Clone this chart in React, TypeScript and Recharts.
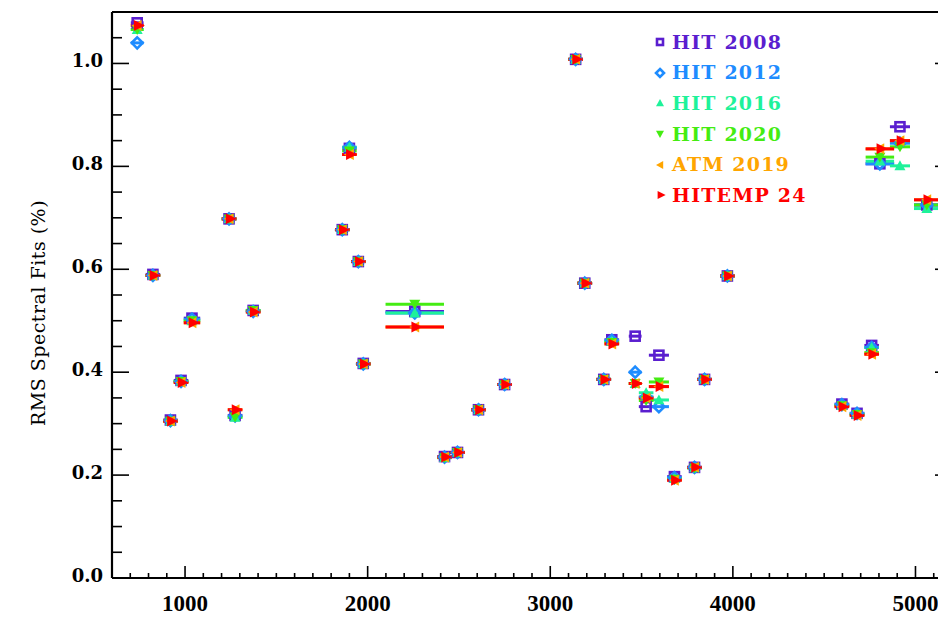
import { ErrorBar, Scatter, ScatterChart, XAxis, YAxis } from 'recharts'

// band centres (cm-1) and half widths used for the horizontal bars
const wavenumbers = [
  738, 824, 920, 978, 1038, 1241, 1274, 1373, 1861, 1900, 1949, 1976, 2258, 2421, 2492, 2607, 2750,
  3139, 3189, 3293, 3337, 3465, 3525, 3595, 3680, 3790, 3845, 3970, 4597, 4680, 4760, 4805, 4915, 5062,
]
const halfWidths = [
  35, 40, 40, 40, 45, 40, 40, 40, 40, 40, 40, 40, 160, 40, 40, 40, 40,
  40, 40, 40, 40, 35, 40, 55, 40, 40, 40, 40, 40, 40, 40, 78, 55, 70,
]

// RMS spectral fit residuals (%) per line list
const hit2008 = [
  1.079, 0.59, 0.307, 0.384, 0.505, 0.698, 0.316, 0.52, 0.677, 0.835, 0.615, 0.417, 0.518, 0.236, 0.244, 0.327, 0.376,
  1.008, 0.573, 0.386, 0.463, 0.47, 0.333, 0.433, 0.197, 0.215, 0.386, 0.587, 0.338, 0.32, 0.452, 0.805, 0.877, 0.725,
]
const hit2012 = [
  1.04, 0.588, 0.306, 0.382, 0.503, 0.698, 0.315, 0.518, 0.677, 0.837, 0.615, 0.416, 0.515, 0.235, 0.244, 0.327, 0.376,
  1.008, 0.573, 0.386, 0.462, 0.4, 0.352, 0.333, 0.195, 0.215, 0.386, 0.587, 0.337, 0.32, 0.448, 0.805, 0.845, 0.725,
]
const hit2016 = [
  1.066, 0.588, 0.305, 0.382, 0.5, 0.698, 0.312, 0.52, 0.677, 0.837, 0.615, 0.416, 0.515, 0.234, 0.244, 0.327, 0.376,
  1.008, 0.573, 0.386, 0.46, 0.378, 0.36, 0.346, 0.193, 0.214, 0.386, 0.587, 0.335, 0.318, 0.448, 0.81, 0.801, 0.718,
]
const hit2020 = [
  1.066, 0.588, 0.305, 0.382, 0.5, 0.698, 0.313, 0.52, 0.677, 0.83, 0.615, 0.416, 0.532, 0.234, 0.244, 0.327, 0.376,
  1.008, 0.573, 0.386, 0.458, 0.378, 0.345, 0.381, 0.192, 0.214, 0.386, 0.587, 0.335, 0.318, 0.438, 0.818, 0.838, 0.725,
]
const atm2019 = [
  1.074, 0.588, 0.305, 0.38, 0.496, 0.698, 0.327, 0.517, 0.677, 0.823, 0.615, 0.416, 0.488, 0.235, 0.244, 0.327, 0.376,
  1.008, 0.573, 0.386, 0.455, 0.378, 0.35, 0.372, 0.19, 0.215, 0.386, 0.587, 0.333, 0.316, 0.435, 0.834, 0.85, 0.735,
]
const hitemp24 = [
  1.074, 0.588, 0.305, 0.38, 0.496, 0.698, 0.327, 0.517, 0.677, 0.823, 0.615, 0.416, 0.488, 0.235, 0.244, 0.327, 0.376,
  1.008, 0.573, 0.386, 0.455, 0.378, 0.35, 0.372, 0.19, 0.215, 0.386, 0.587, 0.333, 0.316, 0.435, 0.834, 0.85, 0.735,
]

const xTickLabels = [1000, 2000, 3000, 4000, 5000]
const yTickLabels = [0, 0.2, 0.4, 0.6, 0.8, 1.0]

const X_DOMAIN: [number, number] = [600, 5200]
const Y_DOMAIN: [number, number] = [0, 1.1]

const xTicks: number[] = []
for (let v = 700; v <= 5100; v += 100) xTicks.push(v)
const yTicks: number[] = []
for (let i = 0; i <= 22; i++) yTicks.push(Math.round(i * 5) / 100)

type Kind = 'square' | 'diamond' | 'up' | 'down' | 'left' | 'right'

const SERIES: { name: string; color: string; kind: Kind; values: number[] }[] = [
  { name: 'HIT 2008', color: '#5a1ecf', kind: 'square', values: hit2008 },
  { name: 'HIT 2012', color: '#1e8cff', kind: 'diamond', values: hit2012 },
  { name: 'HIT 2016', color: '#1ef29a', kind: 'up', values: hit2016 },
  { name: 'HIT 2020', color: '#44ec12', kind: 'down', values: hit2020 },
  { name: 'ATM 2019', color: '#ffa500', kind: 'left', values: atm2019 },
  { name: 'HITEMP 24', color: '#ff0000', kind: 'right', values: hitemp24 },
]

const buildPoints = (values: number[]) =>
  wavenumbers.map((x, i) => ({ x, y: values[i], err: halfWidths[i] }))

function Marker({ cx, cy, kind, color, s = 5.5 }: { cx: number; cy: number; kind: Kind; color: string; s?: number }) {
  if (cx == null || cy == null) return null
  switch (kind) {
    case 'square':
      return <rect x={cx - s + 1} y={cy - s + 1} width={2 * s - 2} height={2 * s - 2} fill="none" stroke={color} strokeWidth={2.6} />
    case 'diamond':
      return (
        <polygon
          points={`${cx},${cy - s} ${cx + s},${cy} ${cx},${cy + s} ${cx - s},${cy}`}
          fill="none"
          stroke={color}
          strokeWidth={2.6}
        />
      )
    case 'up':
      return <polygon points={`${cx},${cy - s} ${cx + s},${cy + s * 0.8} ${cx - s},${cy + s * 0.8}`} fill={color} />
    case 'down':
      return <polygon points={`${cx},${cy + s} ${cx + s},${cy - s * 0.8} ${cx - s},${cy - s * 0.8}`} fill={color} />
    case 'left':
      return <polygon points={`${cx - s},${cy} ${cx + s * 0.8},${cy - s} ${cx + s * 0.8},${cy + s}`} fill={color} />
    default:
      return <polygon points={`${cx - s * 0.6},${cy - s} ${cx - s * 0.6},${cy + s} ${cx + s * 1.4},${cy}`} fill={color} />
  }
}

const labelFont = '"Liberation Serif", "DejaVu Serif", serif'
const wideFont = '"DejaVu Serif", serif'

function BottomTick({ x, y, payload }: any) {
  const major = xTickLabels.includes(payload.value)
  return (
    <g>
      <line x1={x} x2={x} y1={y} y2={y - (major ? 12 : 5)} stroke="#000" strokeWidth={1.6} />
      {major && (
        <text x={x} y={y + 33} textAnchor="middle" fontFamily={labelFont} fontWeight="bold" fontSize={23} fill="#000">
          {payload.value}
        </text>
      )}
    </g>
  )
}

function TopTick({ x, y, payload }: any) {
  const major = xTickLabels.includes(payload.value)
  return <line x1={x} x2={x} y1={y} y2={y + (major ? 12 : 5)} stroke="#000" strokeWidth={1.6} />
}

function LeftTick({ x, y, payload }: any) {
  const major = yTickLabels.some((t) => Math.abs(t - payload.value) < 1e-6)
  return (
    <g>
      <line x1={x} x2={x + (major ? 17 : 10)} y1={y} y2={y} stroke="#000" strokeWidth={1.6} />
      {major && (
        <text x={x - 9} y={y + 4} textAnchor="end" fontFamily={wideFont} fontWeight="bold" fontSize={18} fill="#000">
          {payload.value.toFixed(1)}
        </text>
      )}
    </g>
  )
}

function RightTick({ x, y, payload }: any) {
  const major = yTickLabels.some((t) => Math.abs(t - payload.value) < 1e-6)
  return <line x1={x} x2={x - (major ? 17 : 10)} y1={y} y2={y} stroke="#000" strokeWidth={1.6} />
}

const axisLine = { stroke: '#000', strokeWidth: 2.2 }

export default function App() {
  return (
    <div style={{ position: 'relative', width: 938, height: 610, background: '#fff', overflow: 'hidden' }}>
      <ScatterChart width={945} height={610} margin={{ top: 3, right: 0, bottom: 39, left: 103 }}>
        <XAxis
          xAxisId="bottom"
          type="number"
          dataKey="x"
          domain={X_DOMAIN}
          allowDataOverflow
          ticks={xTicks}
          interval={0}
          height={1}
          tickSize={0}
          tickMargin={0}
          tickLine={false}
          axisLine={axisLine}
          tick={<BottomTick />}
        />
        <XAxis
          xAxisId="top"
          orientation="top"
          type="number"
          domain={X_DOMAIN}
          allowDataOverflow
          ticks={xTicks}
          interval={0}
          height={1}
          tickSize={0}
          tickMargin={0}
          tickLine={false}
          axisLine={axisLine}
          tick={<TopTick />}
        />
        <YAxis
          yAxisId="left"
          type="number"
          dataKey="y"
          domain={Y_DOMAIN}
          allowDataOverflow
          ticks={yTicks}
          interval={0}
          width={1}
          tickSize={0}
          tickMargin={0}
          tickLine={false}
          axisLine={axisLine}
          tick={<LeftTick />}
        />
        <YAxis
          yAxisId="right"
          orientation="right"
          type="number"
          domain={Y_DOMAIN}
          allowDataOverflow
          ticks={yTicks}
          interval={0}
          width={1}
          tickSize={0}
          tickMargin={0}
          tickLine={false}
          axisLine={axisLine}
          tick={<RightTick />}
        />
        {SERIES.map((s) => (
          <Scatter
            key={s.name}
            name={s.name}
            xAxisId="bottom"
            yAxisId="left"
            data={buildPoints(s.values)}
            isAnimationActive={false}
            shape={(p: any) => <Marker cx={p.cx} cy={p.cy} kind={s.kind} color={s.color} />}
          >
            <ErrorBar dataKey="err" direction="x" width={0} stroke={s.color} strokeWidth={3} isAnimationActive={false} />
          </Scatter>
        ))}
      </ScatterChart>
      <div
        style={{
          position: 'absolute',
          left: 30,
          top: 305,
          transform: 'translate(-50%, -50%) rotate(-90deg)',
          fontFamily: wideFont,
          fontSize: 19,
          letterSpacing: 0.5,
          whiteSpace: 'nowrap',
          color: '#000',
        }}
      >
        RMS Spectral Fits (%)
      </div>
      <div style={{ position: 'absolute', left: 645, top: 19 }}>
        {SERIES.map((s) => (
          <div key={s.name} style={{ display: 'flex', alignItems: 'center', height: 30.6 }}>
            <svg width={14} height={14} style={{ marginRight: 5 }}>
              <Marker cx={7} cy={7} kind={s.kind} color={s.color} s={4} />
            </svg>
            <span
              style={{
                fontFamily: wideFont,
                fontSize: 19,
                fontWeight: 'bold',
                letterSpacing: 1.2,
                color: s.color,
                lineHeight: 1,
              }}
            >
              {s.name}
            </span>
          </div>
        ))}
      </div>
    </div>
  )
}
